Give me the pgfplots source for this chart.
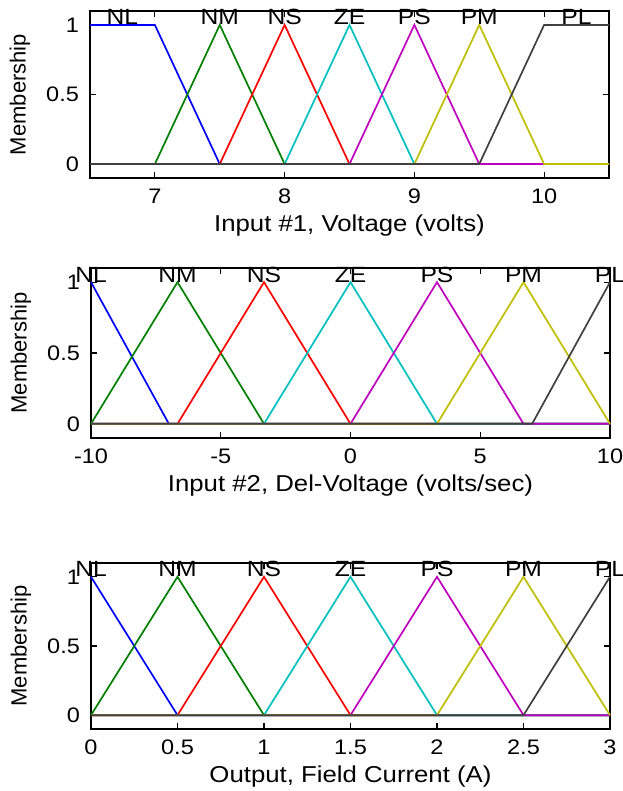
\documentclass[border=0pt]{standalone}
\usepackage{fontspec}
\setmainfont{Liberation Sans}[FakeStretch=1.12]
\newfontfamily\ylfont{Liberation Sans}
\usepackage{pgfplots}
\pgfplotsset{compat=1.18}

\definecolor{mfB}{rgb}{0,0,1}
\definecolor{mfG}{rgb}{0,0.5,0}
\definecolor{mfR}{rgb}{1,0,0}
\definecolor{mfC}{rgb}{0,0.75,0.75}
\definecolor{mfM}{rgb}{0.75,0,0.75}
\definecolor{mfY}{rgb}{0.75,0.75,0}
\definecolor{mfK}{rgb}{0.25,0.25,0.25}

\pgfplotsset{
  mfaxis/.style={
    scale only axis, width=259.5pt,
    ymin=-0.1, ymax=1.1, ytick={0,0.5,1},
    tick align=inside, major tick length=3pt,
    axis line style={line width=1pt},
    every tick/.style={black, line width=0.6pt},
    tick label style={font=\fontsize{10.5}{12}\selectfont},
    xticklabel style={yshift=-2pt},
    yticklabel style={xshift=-2pt},
    /pgf/number format/assume math mode=true,
    ylabel={\ylfont\fontsize{11}{13}\selectfont Membership},
    every axis y label/.style={at={(rel axis cs:0,0.5)}, xshift=-35pt, rotate=90, anchor=center},
    every axis x label/.style={at={(rel axis cs:0.5,0)}, yshift=-24pt, anchor=center, font=\fontsize{11.5}{13}\selectfont},
    every axis plot/.append style={line width=0.85pt, mark=none},
    clip=false,
  },
}
\tikzset{mflab/.style={anchor=base, inner sep=0pt, font=\fontsize{11}{13}\selectfont}}

\begin{document}
\begin{tikzpicture}
\useasboundingbox (0,0) rectangle (311pt,395.5pt);

% Input 1: voltage
\begin{axis}[mfaxis, at={(45pt,306.5pt)}, anchor=south west, height=83.5pt,
  xmin=6.5, xmax=10.5, xtick={7,8,9,10},
  xlabel={Input \#1, Voltage (volts)}]
  \addplot[mfB] coordinates {(6.5,1) (7,1) (7.5,0) (10.5,0)};
  \addplot[mfG] coordinates {(6.5,0) (7,0) (7.5,1) (8,0) (10.5,0)};
  \addplot[mfR] coordinates {(6.5,0) (7.5,0) (8,1) (8.5,0) (10.5,0)};
  \addplot[mfC] coordinates {(6.5,0) (8,0) (8.5,1) (9,0) (10.5,0)};
  \addplot[mfM] coordinates {(6.5,0) (8.5,0) (9,1) (9.5,0) (10.5,0)};
  \addplot[mfY] coordinates {(6.5,0) (9,0) (9.5,1) (10,0) (10.5,0)};
  \addplot[mfK] coordinates {(6.5,0) (9.5,0) (10,1) (10.5,1)};
  \node[mflab] at (axis cs:6.75,1) {NL};
  \node[mflab] at (axis cs:7.5,1) {NM};
  \node[mflab] at (axis cs:8,1) {NS};
  \node[mflab] at (axis cs:8.5,1) {ZE};
  \node[mflab] at (axis cs:9,1) {PS};
  \node[mflab] at (axis cs:9.5,1) {PM};
  \node[mflab] at (axis cs:10.25,1) {PL};
\end{axis}

% Input 2: del-voltage
\begin{axis}[mfaxis, at={(45.5pt,176.5pt)}, anchor=south west, height=85pt,
  xmin=-10, xmax=10, xtick={-10,-5,0,5,10},
  xlabel={Input \#2, Del-Voltage (volts/sec)}]
  \addplot[mfB] coordinates {(-10,1) (-7,0) (10,0)};
  \addplot[mfG] coordinates {(-10,0) (-6.667,1) (-3.333,0) (10,0)};
  \addplot[mfR] coordinates {(-10,0) (-6.667,0) (-3.333,1) (0,0) (10,0)};
  \addplot[mfC] coordinates {(-10,0) (-3.333,0) (0,1) (3.333,0) (10,0)};
  \addplot[mfM] coordinates {(-10,0) (0,0) (3.333,1) (6.667,0) (10,0)};
  \addplot[mfY] coordinates {(-10,0) (3.333,0) (6.667,1) (10,0)};
  \addplot[mfK] coordinates {(-10,0) (7,0) (10,1)};
  \node[mflab] at (axis cs:-10,1) {NL};
  \node[mflab] at (axis cs:-6.667,1) {NM};
  \node[mflab] at (axis cs:-3.333,1) {NS};
  \node[mflab] at (axis cs:0,1) {ZE};
  \node[mflab] at (axis cs:3.333,1) {PS};
  \node[mflab] at (axis cs:6.667,1) {PM};
  \node[mflab] at (axis cs:10,1) {PL};
\end{axis}

% Output: field current
\begin{axis}[mfaxis, at={(45.5pt,31pt)}, anchor=south west, height=83pt,
  xmin=0, xmax=3, xtick={0,0.5,1,1.5,2,2.5,3},
  xlabel={Output, Field Current (A)}]
  \addplot[mfB] coordinates {(0,1) (0.5,0) (3,0)};
  \addplot[mfG] coordinates {(0,0) (0.5,1) (1,0) (3,0)};
  \addplot[mfR] coordinates {(0,0) (0.5,0) (1,1) (1.5,0) (3,0)};
  \addplot[mfC] coordinates {(0,0) (1,0) (1.5,1) (2,0) (3,0)};
  \addplot[mfM] coordinates {(0,0) (1.5,0) (2,1) (2.5,0) (3,0)};
  \addplot[mfY] coordinates {(0,0) (2,0) (2.5,1) (3,0)};
  \addplot[mfK] coordinates {(0,0) (2.5,0) (3,1)};
  \node[mflab] at (axis cs:0,1) {NL};
  \node[mflab] at (axis cs:0.5,1) {NM};
  \node[mflab] at (axis cs:1,1) {NS};
  \node[mflab] at (axis cs:1.5,1) {ZE};
  \node[mflab] at (axis cs:2,1) {PS};
  \node[mflab] at (axis cs:2.5,1) {PM};
  \node[mflab] at (axis cs:3,1) {PL};
\end{axis}
\end{tikzpicture}
\end{document}
